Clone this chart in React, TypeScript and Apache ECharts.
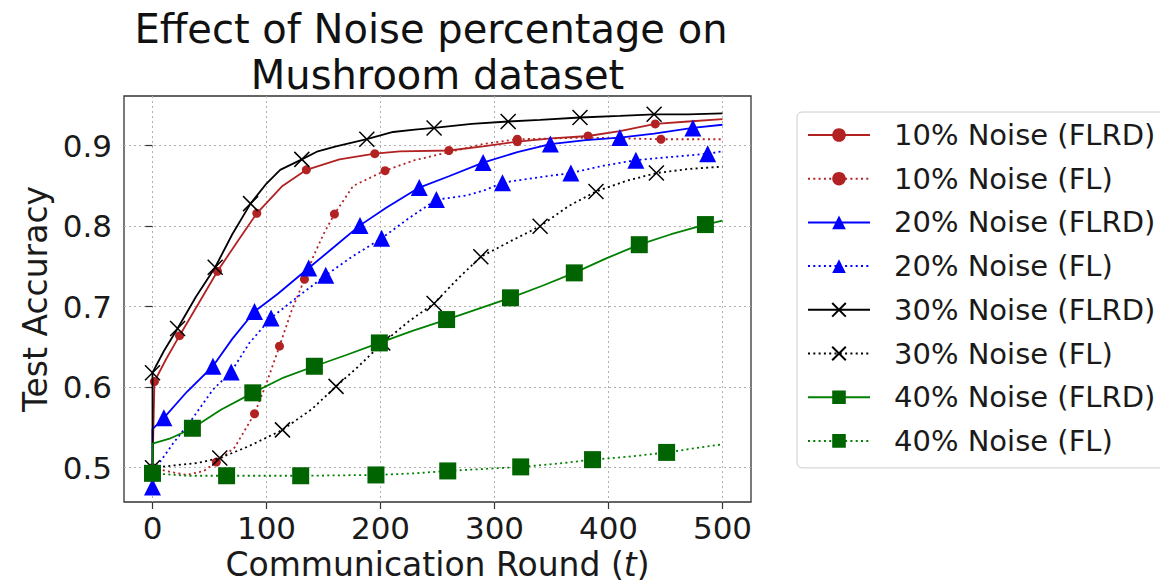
import React, { useEffect, useRef } from "react";
import * as echarts from "echarts";

const FONT = "DejaVu Sans";

const titleLines = ["Effect of Noise percentage on", "Mushroom dataset"];
const xTicks = [0, 100, 200, 300, 400, 500];
const yTicks = [0.5, 0.6, 0.7, 0.8, 0.9];

const seriesNames = [
  "10% Noise (FLRD)",
  "10% Noise (FL)",
  "20% Noise (FLRD)",
  "20% Noise (FL)",
  "30% Noise (FLRD)",
  "30% Noise (FL)",
  "40% Noise (FLRD)",
  "40% Noise (FL)",
];

// 10% Noise (FLRD)
const r10FLRD = [0, 1.7, 12, 23.7, 40, 57, 75, 91.5, 114, 135, 164, 195, 217, 260, 290, 320, 350, 382, 410, 441, 470, 500];
const a10FLRD = [0.5, 0.607, 0.635, 0.664, 0.703, 0.744, 0.782, 0.816, 0.85, 0.87, 0.883, 0.89, 0.893, 0.894, 0.899, 0.905, 0.909, 0.912, 0.918, 0.927, 0.93, 0.933];
const k10FLRD = [0, 1, 0, 1, 0, 1, 0, 1, 0, 1, 0, 1, 0, 1, 0, 1, 0, 1, 0, 1, 0, 0];

// 10% Noise (FL)
const r10FL = [0, 15, 30, 45, 56, 72, 89.5, 100, 111.4, 122, 133.3, 141, 150, 159.6, 176, 204, 230, 260, 290, 320, 350, 382, 446, 500];
const a10FL = [0.5, 0.495, 0.491, 0.496, 0.507, 0.525, 0.567, 0.605, 0.651, 0.695, 0.734, 0.762, 0.79, 0.815, 0.85, 0.869, 0.882, 0.892, 0.902, 0.908, 0.909, 0.91, 0.908, 0.908];
const k10FL = [1, 0, 0, 0, 1, 0, 1, 0, 1, 0, 1, 0, 0, 1, 0, 1, 0, 0, 0, 1, 0, 0, 1, 0];

// 20% Noise (FLRD)
const r20FLRD = [0, 0, 10, 30, 53, 70, 89.5, 110, 137, 160, 182, 205, 234, 260, 290, 320, 349, 380, 410, 440, 474, 500];
const a20FLRD = [0.5, 0.548, 0.562, 0.594, 0.626, 0.66, 0.694, 0.716, 0.748, 0.775, 0.801, 0.823, 0.848, 0.862, 0.879, 0.892, 0.902, 0.907, 0.91, 0.915, 0.922, 0.926];
const k20FLRD = [0, 0, 1, 0, 1, 0, 1, 0, 1, 0, 1, 0, 1, 0, 1, 0, 1, 0, 1, 0, 1, 0];

// 20% Noise (FL)
const r20FL = [0, 3, 18, 34, 53, 69, 85, 104, 128, 152, 175, 201, 225, 249, 275, 292, 307, 335, 367, 395, 424, 455, 487, 500];
const a20FL = [0.476, 0.5, 0.53, 0.559, 0.597, 0.619, 0.655, 0.686, 0.713, 0.739, 0.762, 0.785, 0.81, 0.833, 0.838, 0.845, 0.854, 0.86, 0.866, 0.875, 0.882, 0.886, 0.89, 0.893];
const k20FL = [1, 0, 0, 0, 0, 1, 0, 1, 0, 1, 0, 1, 0, 1, 0, 0, 1, 0, 1, 0, 1, 0, 1, 0];

// 30% Noise (FLRD)
const r30FLRD = [0, 0, 10, 22, 38, 55, 70, 86, 100, 112, 131, 145, 161, 188, 211, 230, 247, 280, 312, 340, 375, 410, 440, 470, 500];
const a30FLRD = [0.5, 0.618, 0.645, 0.673, 0.712, 0.749, 0.79, 0.828, 0.853, 0.87, 0.883, 0.893, 0.899, 0.908, 0.917, 0.92, 0.922, 0.927, 0.93, 0.932, 0.935, 0.937, 0.939, 0.939, 0.94];
const k30FLRD = [0, 1, 0, 1, 0, 1, 0, 1, 0, 0, 1, 0, 0, 1, 0, 0, 1, 0, 1, 0, 1, 0, 1, 0, 0];

// 30% Noise (FL)
const r30FL = [0, 20, 40, 59, 85, 114, 140, 161, 180, 202, 225, 247, 268, 288, 315, 340, 365, 389, 415, 442, 470, 500];
const a30FL = [0.5, 0.503, 0.506, 0.512, 0.527, 0.547, 0.573, 0.601, 0.625, 0.655, 0.682, 0.704, 0.735, 0.762, 0.782, 0.8, 0.825, 0.843, 0.856, 0.866, 0.871, 0.874];
const k30FL = [1, 0, 0, 1, 0, 1, 0, 1, 0, 1, 0, 1, 0, 1, 0, 1, 0, 1, 0, 1, 0, 0];

// 40% Noise (FLRD)
const r40FLRD = [0, 0, 15, 35, 60, 88, 115, 142, 170, 199, 228, 258, 285, 314, 342, 370, 398, 427, 455, 485, 500];
const a40FLRD = [0.5, 0.53, 0.536, 0.549, 0.572, 0.593, 0.612, 0.626, 0.64, 0.655, 0.67, 0.684, 0.697, 0.711, 0.726, 0.742, 0.76, 0.777, 0.79, 0.802, 0.807];
const k40FLRD = [0, 0, 0, 1, 0, 1, 0, 1, 0, 1, 0, 1, 0, 1, 0, 1, 0, 1, 0, 1, 0];

// 40% Noise (FL)
const r40FL = [0, 30, 65, 130, 196, 230, 259, 323, 355, 386, 420, 451, 480, 500];
const a40FL = [0.493, 0.49, 0.49, 0.49, 0.491, 0.493, 0.496, 0.501, 0.505, 0.51, 0.514, 0.519, 0.525, 0.529];
const k40FL = [1, 0, 1, 1, 1, 0, 1, 1, 0, 1, 0, 1, 0, 0];

const xRounds = [r10FLRD, r10FL, r20FLRD, r20FL, r30FLRD, r30FL, r40FLRD, r40FL];
const yAcc = [a10FLRD, a10FL, a20FLRD, a20FL, a30FLRD, a30FL, a40FLRD, a40FL];
const markFlags = [k10FLRD, k10FL, k20FLRD, k20FL, k30FLRD, k30FL, k40FLRD, k40FL];

const X_PATH = "path://M0,0L10,10M10,0L0,10";
const DOT: number[] = [2, 3.3];

const looks = [
  { line: "#b22222", mark: "#b22222", dash: "solid", symbol: "circle", size: 9, edge: 0 },
  { line: "#b22222", mark: "#b22222", dash: DOT, symbol: "circle", size: 9, edge: 0 },
  { line: "#0000ff", mark: "#0000ff", dash: "solid", symbol: "triangle", size: 17, edge: 0 },
  { line: "#0000ff", mark: "#0000ff", dash: DOT, symbol: "triangle", size: 17, edge: 0 },
  { line: "#000000", mark: "#000000", dash: "solid", symbol: X_PATH, size: 15, edge: 1.5 },
  { line: "#000000", mark: "#000000", dash: DOT, symbol: X_PATH, size: 15, edge: 1.5 },
  { line: "#008000", mark: "#006400", dash: "solid", symbol: "rect", size: 17, edge: 0 },
  { line: "#008000", mark: "#006400", dash: DOT, symbol: "rect", size: 17, edge: 0 },
];

function buildData(xs: number[], ys: number[], ks: number[]) {
  return xs.map((x, i) =>
    ks[i] ? { value: [x, ys[i]] } : { value: [x, ys[i]], symbol: "none" }
  );
}

export default function App() {
  const ref = useRef<HTMLDivElement>(null);

  useEffect(() => {
    if (!ref.current) return;
    const chart = echarts.init(ref.current, null, { renderer: "svg" });

    const series = seriesNames.map((name, i) => {
      const lk = looks[i];
      return {
        name,
        type: "line",
        data: buildData(xRounds[i], yAcc[i], markFlags[i]),
        symbol: lk.symbol,
        symbolSize: lk.size,
        showSymbol: true,
        showAllSymbol: true,
        smooth: false,
        lineStyle: { color: lk.line, width: 1.8, type: lk.dash },
        itemStyle: {
          color: lk.mark,
          borderColor: lk.mark,
          borderWidth: lk.edge,
          opacity: 1,
        },
        emphasis: { disabled: true },
        z: 2 + i,
      };
    });

    const titleStyle = {
      fontFamily: FONT,
      fontSize: 40,
      lineHeight: 46,
      fontWeight: "normal",
      color: "#111",
    };

    chart.setOption({
      animation: false,
      textStyle: { fontFamily: FONT },
      title: [
        { text: titleLines[0], left: 431, textAlign: "center", top: 6, padding: 0, textStyle: titleStyle },
        { text: titleLines[1], left: 437.5, textAlign: "center", top: 52, padding: 0, textStyle: titleStyle },
      ],
      legend: {
        orient: "vertical",
        left: 797,
        top: 112,
        itemWidth: 62,
        itemHeight: 17,
        itemGap: 13.7,
        padding: [8, 12, 12, 10],
        borderColor: "#cccccc",
        borderWidth: 1,
        borderRadius: 5,
        backgroundColor: "#ffffff",
        data: seriesNames,
        textStyle: {
          fontFamily: FONT,
          fontSize: 29,
          lineHeight: 30,
          color: "#1a1a1a",
          padding: [0, 0, 0, 19],
        },
      },
      grid: {
        show: true,
        left: 124,
        top: 96,
        width: 627,
        height: 406,
        borderColor: "#333",
        borderWidth: 1.3,
        backgroundColor: "transparent",
      },
      xAxis: {
        type: "value",
        min: -25,
        max: 525,
        name: "Communication Round ({i|t})",
        nameLocation: "middle",
        nameGap: 45,
        nameTextStyle: {
          fontFamily: FONT,
          fontSize: 33,
          color: "#1a1a1a",
          rich: { i: { fontStyle: "italic", fontFamily: FONT, fontSize: 33, color: "#1a1a1a" } },
        },
        axisLine: { show: false },
        axisTick: {
          show: true,
          length: 7,
          inside: false,
          customValues: xTicks,
          lineStyle: { color: "#333", width: 1.2 },
        },
        axisLabel: {
          customValues: xTicks,
          fontFamily: FONT,
          fontSize: 31,
          color: "#1a1a1a",
          margin: 10,
          showMinLabel: true,
          showMaxLabel: true,
        },
        splitLine: {
          show: true,
          lineStyle: { color: "#b0b0b0", width: 1, type: [2, 3] },
        },
      },
      yAxis: {
        type: "value",
        min: 0.4574,
        max: 0.9617,
        name: "Test Accuracy",
        nameLocation: "middle",
        nameGap: 72,
        nameTextStyle: { fontFamily: FONT, fontSize: 33, color: "#1a1a1a" },
        axisLine: { show: false },
        axisTick: {
          show: true,
          length: 7,
          inside: false,
          customValues: yTicks,
          lineStyle: { color: "#333", width: 1.2 },
        },
        axisLabel: {
          customValues: yTicks,
          fontFamily: FONT,
          fontSize: 31,
          color: "#1a1a1a",
          margin: 12,
          formatter: (v: number) => v.toFixed(1),
        },
        splitLine: {
          show: true,
          lineStyle: { color: "#b0b0b0", width: 1, type: [2, 3] },
        },
      },
      series,
    });

    return () => chart.dispose();
  }, []);

  return (
    <div
      ref={ref}
      style={{ position: "fixed", left: 0, top: 0, width: 1160, height: 588, background: "#fff" }}
    />
  );
}
